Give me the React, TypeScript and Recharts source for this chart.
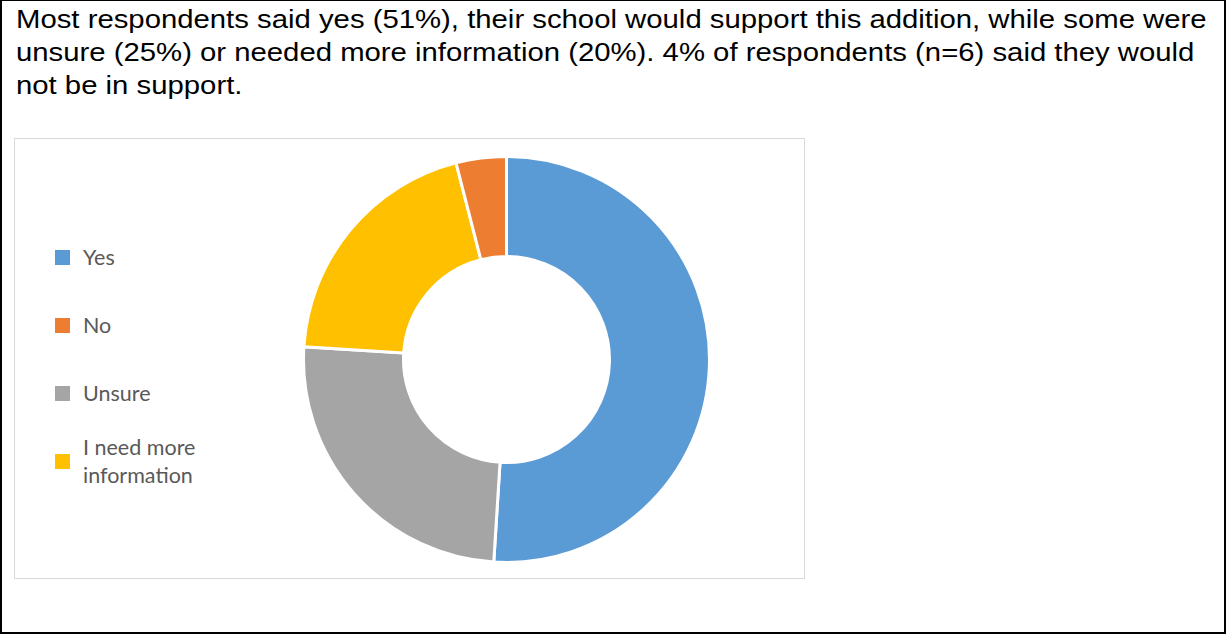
import React from 'react';
import { PieChart, Pie, Cell, Legend } from 'recharts';

// answers in the order the ring is drawn (clockwise from 12 o'clock)
const sliceNames = ['Yes', 'Unsure', 'I need more information', 'No'];
const sliceValues = [51, 25, 20, 4];
const sliceColors = ['#5B9BD5', '#A5A5A5', '#FFC000', '#ED7D31'];

// legend keeps the survey's own order
const legendOrder = ['Yes', 'No', 'Unsure', 'I need more information'];

const titleLines = [
  'Most respondents said yes (51%), their school would support this addition, while some were',
  'unsure (25%) or needed more information (20%). 4% of respondents (n=6) said they would',
  'not be in support.',
];

const data = sliceNames.map((name, i) => ({ name, value: sliceValues[i] }));

const LegendBox = () => (
  <div style={{ fontFamily: 'Lato, sans-serif', fontSize: 21.5, color: '#595959' }}>
    {legendOrder.map((name) => {
      const idx = sliceNames.indexOf(name);
      return (
        <div key={name} style={{ display: 'flex', alignItems: 'center', height: 68 }}>
          <span style={{ width: 15, height: 15, background: sliceColors[idx], marginRight: 13, flexShrink: 0 }} />
          <span style={{ width: 130, lineHeight: '28px' }}>{name}</span>
        </div>
      );
    })}
  </div>
);

export default function App() {
  return (
    <div
      style={{
        position: 'absolute',
        left: 0,
        top: 0,
        width: 1226,
        height: 634,
        boxSizing: 'border-box',
        borderTop: '1px solid #000',
        borderLeft: '2px solid #000',
        borderRight: '2px solid #000',
        borderBottom: '2px solid #000',
        background: '#fff',
      }}
    >
      <div
        style={{
          position: 'absolute',
          left: 14,
          top: 2,
          fontFamily: '"Liberation Sans", Arial, sans-serif',
          fontSize: 26,
          lineHeight: '33px',
          color: '#000',
          whiteSpace: 'nowrap',
          transform: 'scaleX(1.127)',
          transformOrigin: 'left top',
        }}
      >
        {titleLines.map((l) => (
          <div key={l}>{l}</div>
        ))}
      </div>
      <div
        style={{
          position: 'absolute',
          left: 12,
          top: 137,
          width: 791,
          height: 441,
          border: '1px solid #d9d9d9',
          boxSizing: 'border-box',
        }}
      >
        <PieChart width={789} height={439} margin={{ top: 0, right: 0, bottom: 0, left: 0 }}>
          <Pie
            data={data}
            dataKey="value"
            nameKey="name"
            cx={491.5}
            cy={220.5}
            innerRadius={103}
            outerRadius={203}
            startAngle={90}
            endAngle={-270}
            stroke="#fff"
            strokeWidth={3}
            isAnimationActive={false}
          >
            {data.map((d, i) => (
              <Cell key={d.name} fill={sliceColors[i]} />
            ))}
          </Pie>
          <Legend content={<LegendBox />} wrapperStyle={{ left: 40, top: 84, width: 200 }} />
        </PieChart>
      </div>
    </div>
  );
}
